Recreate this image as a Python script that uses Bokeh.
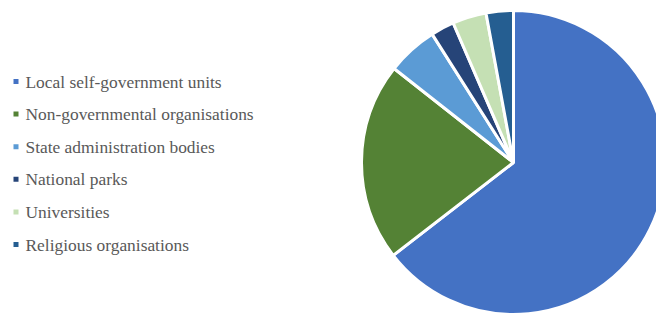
import numpy as np
from bokeh.plotting import figure
from bokeh.models import Range1d, ColumnDataSource
from bokeh.core.properties import value
from bokeh.embed import file_html
from bokeh.resources import INLINE

categories = ["Local self-government units", "Non-governmental organisations",
              "State administration bodies", "National parks", "Universities",
              "Religious organisations"]
shares = [64.6, 21.1, 5.4, 2.5, 3.6, 2.9]
colors = ["#4472C4", "#548235", "#5B9BD5", "#264478", "#C5E0B4", "#255E91"]

W, H = 656, 315
p = figure(width=W, height=H, output_backend="svg", toolbar_location=None,
           x_range=Range1d(0, W), y_range=Range1d(0, H), min_border=0)
p.axis.visible = False
p.grid.visible = False
p.outline_line_color = None
p.background_fill_color = "white"

vals = np.array(shares, dtype=float)
frac = vals / vals.sum()
cum = np.concatenate([[0], np.cumsum(frac)])
start = np.pi / 2 - cum[:-1] * 2 * np.pi
end = np.pi / 2 - cum[1:] * 2 * np.pi

cx, cy, r = 513, H - 162, 152
src = ColumnDataSource(dict(start=start, end=end, color=colors))
p.wedge(x=cx, y=cy, radius=r, start_angle="start", end_angle="end",
        direction="clock", fill_color="color", line_color="white", line_width=3,
        source=src)

row_y = [H - (81 + 32.6 * i) for i in range(len(categories))]
lsrc = ColumnDataSource(dict(y=row_y, label=categories, color=colors))
p.rect(x=15.5, y="y", width=5, height=5, fill_color="color", line_color=None, source=lsrc)
p.text(x=25, y="y", text="label",
       text_font=value("Liberation Serif"), text_font_size="17.4px",
       text_color="#595959", text_baseline="middle", text_align="left", source=lsrc)

open("out.html", "w").write(file_html(p, INLINE))
